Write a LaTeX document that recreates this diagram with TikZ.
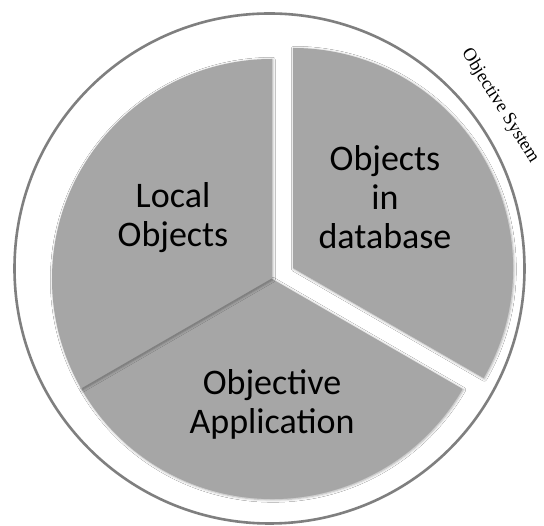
\documentclass[tikz,border=0pt]{standalone}
\usepackage{fontspec}
\setmainfont{Carlito}
\newfontfamily\serifsys{Liberation Serif}
\usetikzlibrary{shadows.blur}
\definecolor{piegray}{HTML}{A6A6A6}
\definecolor{ringgray}{HTML}{7F7F7F}
\definecolor{divgray}{HTML}{808080}
\tikzset{
  sector/.style={fill=piegray, blur shadow={shadow xshift=0.8pt, shadow yshift=-0.8pt, shadow blur radius=2.5pt, shadow opacity=35}},
  lbl/.style={align=center, font=\fontsize{36}{39}\selectfont, text=black, inner sep=0pt},
  systxt/.style={font=\serifsys\fontsize{18.5}{19}\selectfont, inner sep=0pt}
}
\begin{document}
\begin{tikzpicture}[x=1pt,y=1pt]
\useasboundingbox (0,0) rectangle (544,526);
\fill[white] (0,0) rectangle (544,526);
% outer ring
\coordinate (O) at (269.5,257.5);
\draw[ringgray, line width=2.6pt] (O) circle[radius=255];
% pie
\coordinate (C) at (272,247);
\coordinate (D) at (293,258);
\fill[sector] (C) -- ++(210:220) arc[start angle=210, end angle=330, radius=220] -- cycle;
\fill[sector] (C) -- ++(90:220) arc[start angle=90, end angle=210, radius=220] -- cycle;
\fill[sector] (D) -- ++(-30:220) arc[start angle=-30, end angle=90, radius=220] -- cycle;
\coordinate (E) at ($(C)+(210:219)$);
\draw[divgray, line width=1.1pt] (C) -- (E);
% labels
\node[lbl] (local) at (173,308.5) {Local\\Objects};
\node[lbl] (db) at (385,329) {Objects\\in\\database};
\node[lbl] (app) at (272,121.5) {Objective\\Application};
\node[systxt, rotate=-58] (sys) at (500,420) {Objective System};
\end{tikzpicture}
\end{document}
